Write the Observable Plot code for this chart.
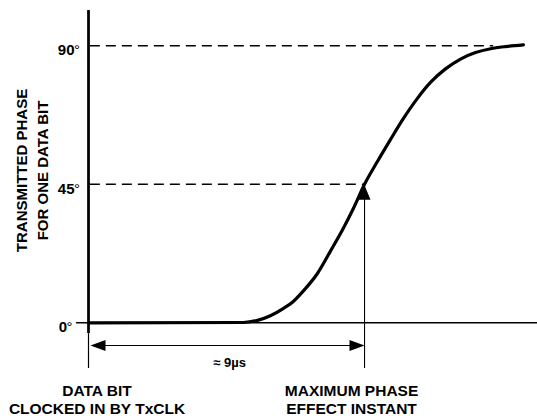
<!DOCTYPE html>
<html><head><meta charset="utf-8">
<script src="https://cdn.jsdelivr.net/npm/d3@7"></script>
<script src="https://cdn.jsdelivr.net/npm/@observablehq/plot@0.6"></script>
<style>html,body{margin:0;padding:0;background:#fff;} svg{display:block;}</style>
</head><body><div id="chart"></div>
<script>
// ---- data ----
const curveTime  = [0, 5.05, 5.51, 5.93, 6.36, 6.65, 7.01, 7.47, 7.89, 8.31, 8.64, 9.0, 9.42, 9.85, 10.27, 10.73, 11.15, 11.64, 12.13, 12.62, 13.11, 13.60, 14.18];
const curvePhase = [0, 0.1, 0.8, 2.3, 4.7, 6.7, 10.4, 16.1, 23.3, 30.7, 37.2, 45.0, 52.4, 59.6, 66.4, 73.0, 78.1, 82.5, 85.7, 87.8, 89.05, 89.75, 90.3];
const tickValues = [0, 45, 90];
const tickLabels = ["0", "45", "90"];
const startTime = 0;
const instantTime = 9;
const instantPhase = 45;
const timeLabel = "\u2248 9\u00b5s";
const yTitle = ["TRANSMITTED PHASE", "FOR ONE DATA BIT"];
const startLabel = "DATA BIT\nCLOCKED IN BY TxCLK";
const instantLabel = "MAXIMUM PHASE\nEFFECT INSTANT";
const timeDomain = [0, 14.64];
const phaseDomain = [-14.85, 101.47];
const arrowLevel = -7.4;
const axisThickEnd = -3.5;

// ---- helpers ----
const rows = curveTime.map((t, i) => ({t, p: curvePhase[i]}));
const meetTime = v => curveTime[curvePhase.findIndex(p => p >= v - 1)];
const arrowUp = {draw(c) { c.moveTo(0, 0); c.lineTo(-6, 14.5); c.lineTo(6, 14.5); c.closePath(); }};
const arrowLeft = {draw(c) { c.moveTo(0, 0); c.lineTo(15, -5.5); c.lineTo(15, 5.5); c.closePath(); }};
const arrowRight = {draw(c) { c.moveTo(0, 0); c.lineTo(-15, -5.5); c.lineTo(-15, 5.5); c.closePath(); }};
const bold = {fontWeight: "bold", fill: "#000"};

const chart = Plot.plot({
  width: 537, height: 416,
  marginLeft: 88, marginRight: 0, marginTop: 10, marginBottom: 48,
  x: {domain: timeDomain, axis: null},
  y: {domain: phaseDomain, axis: null},
  style: {fontFamily: "'Liberation Sans', Arial, sans-serif", background: "#fff", color: "#000", overflow: "visible"},
  marks: [
    Plot.ruleY(tickValues.filter(v => v > 0), {y: d => d, x1: 0.06, x2: d => meetTime(d) + (d === 90 ? 0.1 : 0), stroke: "#000", strokeWidth: 1.5, strokeDasharray: "10,6"}),
    Plot.ruleY([0], {x1: -0.39, x2: timeDomain[1], stroke: "#000", strokeWidth: 1.6}),
    Plot.ruleX([startTime], {x: d => d, y1: axisThickEnd, y2: phaseDomain[1], stroke: "#000", strokeWidth: 2.75}),
    Plot.ruleX([startTime], {x: d => d, y1: phaseDomain[0], y2: axisThickEnd, stroke: "#000", strokeWidth: 1.2}),
    Plot.ruleX([instantTime], {x: d => d, y1: phaseDomain[0], y2: instantPhase - 3, stroke: "#000", strokeWidth: 1.1}),
    Plot.ruleY([arrowLevel], {y: d => d, x1: startTime + 0.3, x2: instantTime - 0.3, stroke: "#000", strokeWidth: 1.1}),
    Plot.dot([startTime], {x: d => d, y: () => arrowLevel, symbol: arrowLeft, fill: "#000", dx: 2}),
    Plot.dot([instantTime], {x: d => d, y: () => arrowLevel, symbol: arrowRight, fill: "#000"}),
    Plot.dot([instantTime], {x: d => d, y: () => instantPhase, symbol: arrowUp, fill: "#000", dy: 1}),
    Plot.line(rows, {x: "t", y: "p", curve: "monotone-x", stroke: "#000", strokeWidth: 3.2, strokeLinejoin: "round"}),
    // tick labels
    Plot.text(tickValues.filter(v => v !== 0), {x: () => startTime, y: d => d, text: d => tickLabels[tickValues.indexOf(d)], textAnchor: "end", lineAnchor: "bottom", dx: -14, dy: 9.5, fontSize: 15, ...bold}),
    Plot.text(tickValues.filter(v => v !== 0), {x: () => startTime, y: d => d, text: () => "\u00b0", textAnchor: "start", lineAnchor: "bottom", dx: -14.5, dy: 9.5, fontSize: 15, fill: "#000"}),
    Plot.text(tickValues.filter(v => v === 0), {x: () => startTime, y: d => d, text: d => tickLabels[tickValues.indexOf(d)], textAnchor: "end", lineAnchor: "bottom", dx: -21.5, dy: 9.5, fontSize: 15, ...bold}),
    Plot.text(tickValues.filter(v => v === 0), {x: () => startTime, y: d => d, text: () => "\u00b0", textAnchor: "start", lineAnchor: "bottom", dx: -22, dy: 9.5, fontSize: 15, fill: "#000"}),
    // y title
    Plot.text([yTitle[0]], {frameAnchor: "left", text: d => d, rotate: -90, textAnchor: "middle", lineAnchor: "bottom", dx: 26.8 - 88, dy: -19, fontSize: 15, ...bold}),
    Plot.text([yTitle[1]], {frameAnchor: "left", text: d => d, rotate: -90, textAnchor: "middle", lineAnchor: "bottom", dx: 47.8 - 88, dy: -19, fontSize: 15, ...bold}),
    // annotations
    Plot.text([timeLabel], {x: () => (startTime + instantTime) / 2, y: () => arrowLevel, text: d => d, lineAnchor: "bottom", dx: 3, dy: 21.6, fontSize: 13, ...bold}),
    Plot.text([startLabel], {x: () => startTime, frameAnchor: "bottom", text: d => d, lineAnchor: "bottom", lineHeight: 1.18, dx: 8.5, dy: 45.3, fontSize: 15.5, ...bold}),
    Plot.text([instantLabel], {x: () => instantTime, frameAnchor: "bottom", text: d => d, lineAnchor: "bottom", lineHeight: 1.18, dx: -13, dy: 45.3, fontSize: 15.5, ...bold})
  ]
});
document.getElementById("chart").appendChild(chart);
</script>
</body></html>
